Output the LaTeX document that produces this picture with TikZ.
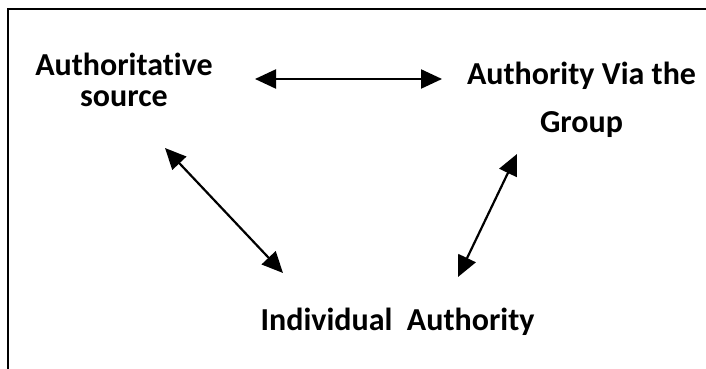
\documentclass[tikz,border=0pt]{standalone}
\usepackage{fontspec}
\setmainfont{Carlito}[RawFeature={-liga}]
\usepackage{tikz}
\usetikzlibrary{arrows.meta}

\begin{document}
\begin{tikzpicture}[x=1pt, y=1pt,
    lbl/.style={font=\fontsize{32}{31}\selectfont\bfseries, align=center, inner sep=0pt},
    link/.style={{Triangle[length=21pt,width=19pt]}-{Triangle[length=21pt,width=19pt]}, line width=2.2pt}]
    \useasboundingbox (0,0) rectangle (706,369);
    \draw[line width=1.8pt] (8,-5) -- (8,360) -- (712,360);
    \node[lbl] (src) at (124,289) {Authoritative\\source};
    \node[lbl, font=\fontsize{32}{48}\selectfont\bfseries] (grp) at (581.5,269) {Authority Via the\\Group};
    \node[lbl, anchor=base] (ind) at (397.5,38) {Individual\ \ Authority};
    \coordinate (srcR) at (255,290);
    \coordinate (grpL) at (442,290);
    \coordinate (srcB) at (165,221);
    \coordinate (indL) at (283,96);
    \coordinate (grpB) at (517,215);
    \coordinate (indR) at (458,92);
    \draw[link] (srcR) -- (grpL);
    \draw[link] (srcB) -- (indL);
    \draw[link] (grpB) -- (indR);
\end{tikzpicture}
\end{document}
